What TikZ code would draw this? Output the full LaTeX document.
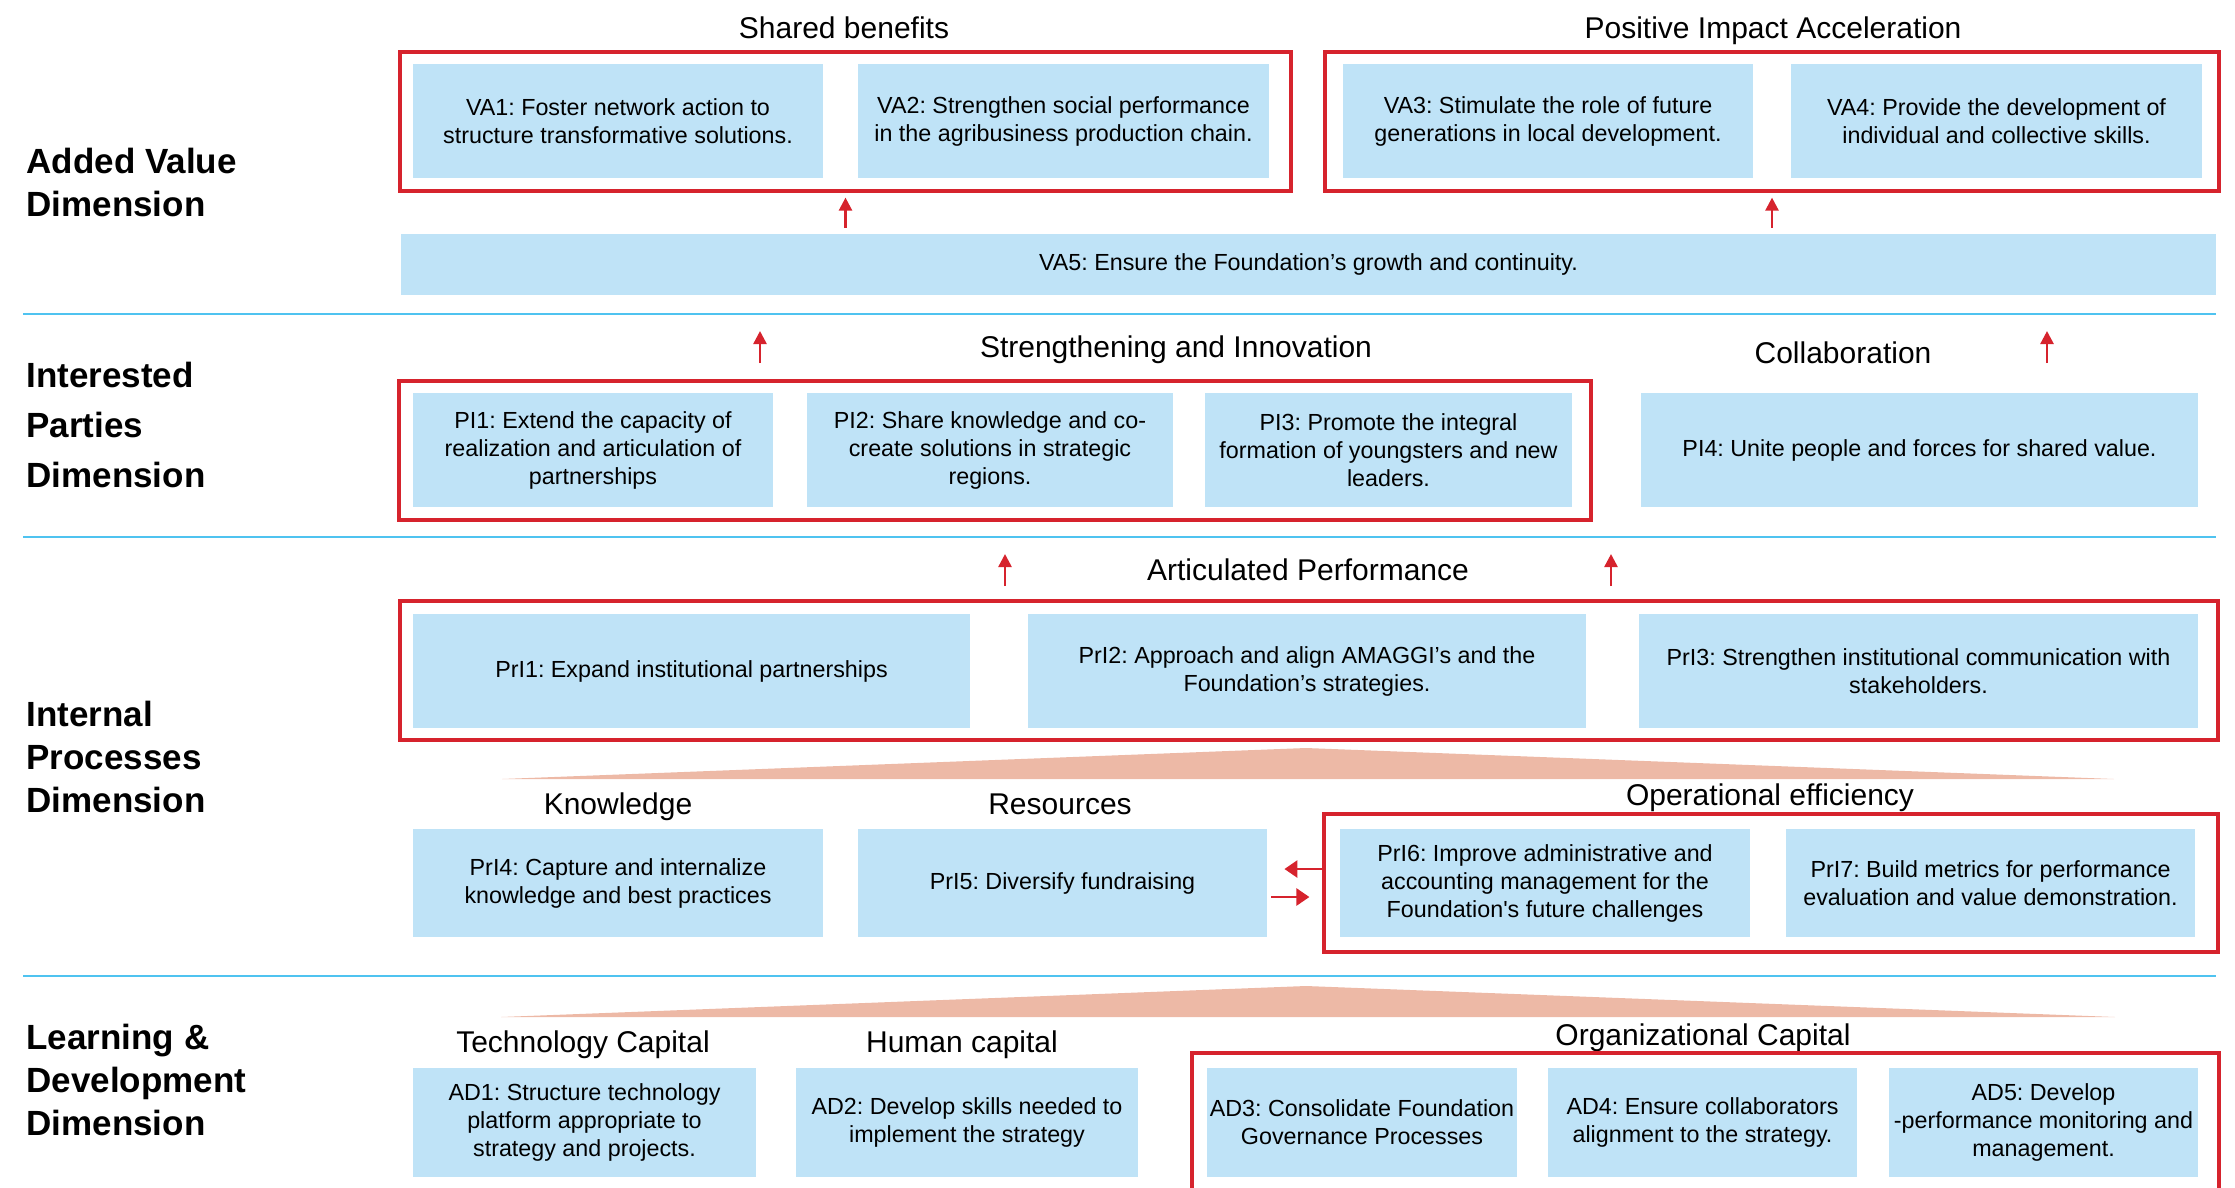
\documentclass[tikz,border=0pt]{standalone}
\usepackage{fontspec}
\setmainfont{Liberation Sans}
\usetikzlibrary{arrows.meta}
\definecolor{boxblue}{RGB}{191,227,247}
\definecolor{framered}{RGB}{214,35,45}
\definecolor{rulecol}{RGB}{79,195,240}
\definecolor{fancol}{RGB}{237,185,166}
\frenchspacing

\begin{document}
\begin{tikzpicture}[x=1pt,y=-1pt,
  goal/.style={fill=boxblue,align=center,inner sep=0pt,font=\fontsize{23.3}{28}\selectfont},
  grp/.style={draw=framered,line width=3.2pt,inner sep=0pt},
  cat/.style={anchor=base,font=\fontsize{30}{36}\selectfont},
  dimtitle/.style={anchor=west,align=left,font=\fontsize{35}{43}\selectfont\bfseries},
  uparr/.style={draw=framered,line width=2.5pt,-{Triangle[width=13pt,length=13pt]}},
  sidearr/.style={draw=framered,line width=2.7pt,-{Triangle[width=17pt,length=13pt]}},
  sep/.style={draw=rulecol,line width=2.5pt}]
\useasboundingbox (0,0) rectangle (2235,1187);
\clip (0,0) rectangle (2235,1187);

% dimension titles
\node[dimtitle] (tva) at (23,182.5) {Added Value\\Dimension};
\node[dimtitle,font=\fontsize{35}{50}\selectfont\bfseries] (tpi) at (23,425) {Interested\\Parties\\Dimension};
\node[dimtitle] (tpri) at (23,757) {Internal\\Processes\\Dimension};
\node[dimtitle] (tad) at (23,1080) {Learning \&\\Development\\Dimension};

% separators
\draw[sep] (23,314)--(2216,314);
\draw[sep] (23,537)--(2216,537);
\draw[sep] (23,976)--(2216,976);

% added value
\node[cat] (csb) at (844,38) {Shared benefits};
\node[cat] (cpia) at (1773,38) {Positive Impact Acceleration};
\node[grp,minimum width=891,minimum height=139] (sb) at (845.5,121.5) {};
\node[grp,minimum width=894,minimum height=139] (pia) at (1772,121.5) {};
\node[goal,minimum width=410,minimum height=114] (va1) at (618,121) {VA1: Foster network action to\\structure transformative solutions.};
\node[goal,minimum width=411,minimum height=114] (va2) at (1063.5,121) {VA2: Strengthen social performance\\in the agribusiness production chain.};
\node[goal,minimum width=410,minimum height=114] (va3) at (1548,121) {VA3: Stimulate the role of future\\generations in local development.};
\node[goal,minimum width=411,minimum height=114] (va4) at (1996.5,121) {VA4: Provide the development of\\individual and collective skills.};
\node[goal,minimum width=1815,minimum height=61] (va5) at (1308.5,264.5) {VA5: Ensure the Foundation’s growth and continuity.};
\draw[uparr] ([yshift=6pt]va5.north -| sb.south) -- ([yshift=-5pt]sb.south);
\draw[uparr] ([yshift=6pt]va5.north -| pia.south) -- ([yshift=-5pt]pia.south);

% interested parties
\coordinate (up1) at (760,363);
\coordinate (up2) at (2047,363);
\draw[uparr] (up1) -- ++(0,-32);
\draw[uparr] (up2) -- ++(0,-32);
\node[cat] (csi) at (1176,357) {Strengthening and Innovation};
\node[cat] (ccol) at (1843,363) {Collaboration};
\node[grp,minimum width=1192,minimum height=139] (si) at (995,450.5) {};
\node[goal,minimum width=360,minimum height=114] (pi1) at (593,450) {PI1: Extend the capacity of\\realization and articulation of\\partnerships};
\node[goal,minimum width=366,minimum height=114] (pi2) at (990,450) {PI2: Share knowledge and co-\\create solutions in strategic\\regions.};
\node[goal,minimum width=367,minimum height=114] (pi3) at (1388.5,450) {PI3: Promote the integral\\formation of youngsters and new\\leaders.};
\node[goal,minimum width=557,minimum height=114] (pi4) at (1919.5,450) {PI4: Unite people and forces for shared value.};

% internal processes
\coordinate (up3) at (1005,586);
\coordinate (up4) at (1611,586);
\draw[uparr] (up3) -- ++(0,-32);
\draw[uparr] (up4) -- ++(0,-32);
\node[cat] (cap) at (1308,580) {Articulated Performance};
\node[grp,minimum width=1818,minimum height=139] (ap) at (1309,670.5) {};
\node[goal,minimum width=557,minimum height=114] (pri1) at (691.5,671) {PrI1: Expand institutional partnerships};
\node[goal,minimum width=558,minimum height=114] (pri2) at (1307,671) {PrI2: Approach and align AMAGGI’s and the\\Foundation’s strategies.};
\node[goal,minimum width=559,minimum height=114] (pri3) at (1918.5,671) {PrI3: Strengthen institutional communication with\\stakeholders.};
\fill[fancol] (502,779) -- (1306,748) -- (2114,779) -- cycle;
\node[cat] (ckn) at (618,814) {Knowledge};
\node[cat] (cres) at (1060,814) {Resources};
\node[cat] (coe) at (1770,805) {Operational efficiency};
\node[grp,minimum width=894,minimum height=138] (oe) at (1771,883) {};
\node[goal,minimum width=410,minimum height=108] (pri4) at (618,883) {PrI4: Capture and internalize\\knowledge and best practices};
\node[goal,minimum width=409,minimum height=108] (pri5) at (1062.5,883) {PrI5: Diversify fundraising};
\node[goal,minimum width=410,minimum height=108] (pri6) at (1545,883) {PrI6: Improve administrative and\\accounting management for the\\Foundation\textquotesingle s future challenges};
\node[goal,minimum width=409,minimum height=108] (pri7) at (1990.5,883) {PrI7: Build metrics for performance\\evaluation and value demonstration.};
\draw[sidearr] ([yshift=14pt]oe.west) -- ([yshift=14pt,xshift=-38pt]oe.west);
\draw[sidearr] ([yshift=-14pt,xshift=4pt]pri5.east) -- ([yshift=-14pt,xshift=-13pt]oe.west);

% learning and development
\fill[fancol] (501,1017) -- (1306,986) -- (2115,1017) -- cycle;
\node[cat] (ctc) at (583,1052) {Technology Capital};
\node[cat] (chc) at (962,1052) {Human capital};
\node[cat] (coc) at (1703,1045) {Organizational Capital};
\node[grp,minimum width=1027,minimum height=147] (oc) at (1705.5,1126.5) {};
\node[goal,minimum width=343,minimum height=109] (ad1) at (584.5,1122.5) {AD1: Structure technology\\platform appropriate to\\strategy and projects.};
\node[goal,minimum width=342,minimum height=109] (ad2) at (967,1122.5) {AD2: Develop skills needed to\\implement the strategy};
\node[goal,minimum width=310,minimum height=109] (ad3) at (1362,1122.5) {AD3: Consolidate Foundation\\Governance Processes};
\node[goal,minimum width=309,minimum height=109] (ad4) at (1702.5,1122.5) {AD4: Ensure collaborators\\alignment to the strategy.};
\node[goal,minimum width=309,minimum height=109] (ad5) at (2043.5,1122.5) {AD5: Develop\\-performance monitoring and\\management.};
\end{tikzpicture}
\end{document}
